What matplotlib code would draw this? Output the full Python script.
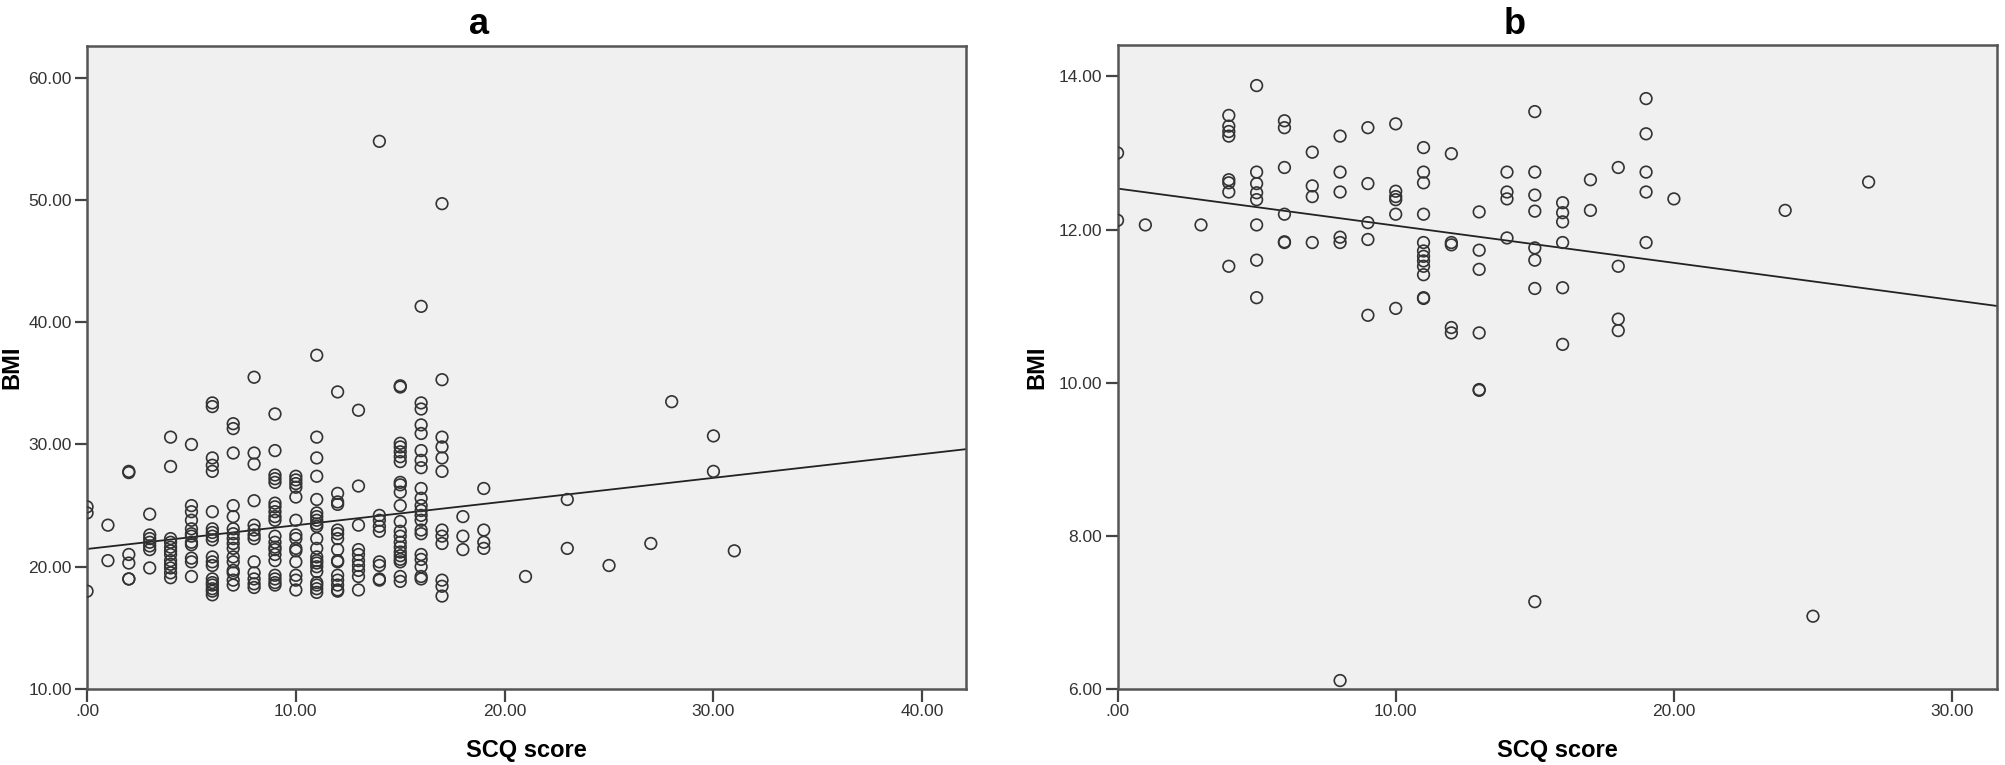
import matplotlib
matplotlib.use("Agg")
import matplotlib.pyplot as plt
from matplotlib.ticker import FuncFormatter
import numpy as np

plt.rcParams['font.family'] = ['Liberation Sans', 'DejaVu Sans']

# panel a : SCQ score vs BMI (whole sample), one list per SCQ value
a_cols = [0, 1, 2, 3, 4, 5, 6, 7, 8, 9, 10, 11, 12, 13, 14, 15, 16, 17, 18, 19, 21, 23, 25, 27, 28, 30, 31]
a_bmi = [
    [24.9, 24.4, 18.0],
    [23.4, 20.5],
    [27.8, 27.7, 21.0, 20.3, 19.0, 19.0],
    [24.3, 22.6, 22.3, 22.0, 21.7, 21.4, 19.9],
    [30.6, 28.2, 22.3, 22.0, 21.6, 21.3, 21.0, 20.5, 20.2, 19.9, 19.5, 19.1],
    [30.0, 25.0, 24.5, 23.8, 23.1, 22.7, 22.5, 22.0, 21.8, 20.7, 20.4, 19.2],
    [33.4, 33.1, 28.9, 28.3, 27.8, 24.5, 23.1, 22.8, 22.5, 22.2, 20.8, 20.4, 20.1, 19.0, 18.7, 18.5, 18.2, 18.0, 17.7],
    [31.7, 31.3, 29.3, 25.0, 24.1, 23.1, 22.7, 22.3, 21.9, 21.5, 20.8, 20.4, 19.7, 19.5, 18.9, 18.5],
    [35.5, 29.3, 28.4, 25.4, 23.4, 23.0, 22.6, 22.3, 20.4, 19.5, 19.0, 18.6, 18.3],
    [32.5, 29.5, 27.5, 27.2, 26.9, 25.2, 24.9, 24.5, 24.1, 23.8, 22.5, 22.0, 21.6, 21.4, 21.0, 20.5, 19.3, 19.0, 18.7, 18.5],
    [27.4, 27.1, 26.8, 26.5, 25.7, 23.8, 22.6, 22.3, 21.5, 21.3, 20.4, 19.3, 18.9, 18.1],
    [37.3, 30.6, 28.9, 27.4, 25.5, 24.4, 24.1, 23.8, 23.5, 23.3, 22.3, 21.5, 20.8, 20.5, 20.3, 20.0, 19.6, 18.7, 18.5, 18.2, 17.9],
    [34.3, 26.0, 25.3, 25.1, 23.0, 22.7, 22.3, 21.4, 20.5, 20.4, 19.3, 18.9, 18.5, 18.1, 18.0],
    [32.8, 26.6, 23.4, 21.4, 21.0, 20.5, 20.1, 19.7, 19.2, 18.1],
    [54.8, 24.2, 23.8, 23.3, 22.9, 20.4, 20.1, 19.0, 18.9],
    [34.8, 34.7, 30.1, 29.8, 29.4, 29.0, 28.6, 26.9, 26.7, 26.1, 25.0, 23.7, 22.9, 22.5, 22.0, 21.6, 21.2, 20.9, 20.6, 20.4, 19.2, 18.8],
    [41.3, 33.4, 32.9, 31.6, 30.9, 29.5, 28.7, 28.1, 26.4, 25.6, 25.0, 24.6, 24.2, 23.8, 23.0, 22.7, 21.0, 20.6, 20.0, 19.2, 19.0],
    [49.7, 35.3, 30.6, 29.8, 28.9, 27.8, 23.0, 22.5, 21.9, 18.9, 18.4, 17.6],
    [24.1, 22.5, 21.4],
    [26.4, 23.0, 22.0, 21.5],
    [19.2],
    [25.5, 21.5],
    [20.1],
    [21.9],
    [33.5],
    [30.7, 27.8],
    [21.3],
]
a_fit = (21.45, 0.194)  # intercept, slope of the fit line

# panel b
b_cols = [0, 1, 3, 4, 5, 6, 7, 8, 9, 10, 11, 12, 13, 14, 15, 16, 17, 18, 19, 20, 24, 25, 27]
b_bmi = [
    [13.0, 12.12],
    [12.06],
    [12.06],
    [13.49, 13.35, 13.28, 13.22, 12.65, 12.61, 12.49, 11.52],
    [13.88, 12.75, 12.60, 12.48, 12.39, 12.06, 11.60, 11.11],
    [13.42, 13.33, 12.81, 12.20, 11.84, 11.83],
    [13.01, 12.57, 12.43, 11.83],
    [13.22, 12.75, 12.49, 11.90, 11.83, 6.11],
    [13.33, 12.60, 12.09, 11.87, 10.88],
    [13.38, 12.50, 12.43, 12.39, 12.20, 10.97],
    [13.07, 12.75, 12.61, 12.20, 11.83, 11.72, 11.65, 11.59, 11.52, 11.41, 11.11, 11.10],
    [12.99, 11.83, 11.80, 10.72, 10.65],
    [12.23, 11.73, 11.48, 10.65, 9.91, 9.90],
    [12.75, 12.49, 12.40, 11.89],
    [13.54, 12.75, 12.45, 12.24, 11.76, 11.60, 11.23, 7.14],
    [12.35, 12.22, 12.10, 11.83, 11.24, 10.50],
    [12.65, 12.25],
    [12.81, 11.52, 10.83, 10.68],
    [13.71, 13.25, 12.75, 12.49, 11.83],
    [12.40],
    [12.25],
    [6.95],
    [12.62],
]
b_fit = (12.535, -0.0485)


def spss_fmt(v, pos):
    if abs(v) < 1e-9:
        return '.00'
    return '{:.2f}'.format(v)


def draw_panel(ax, cols, bmi, fit, xlim, ylim, xticks, yticks, ylab_x):
    x = []
    y = []
    for c, vals in zip(cols, bmi):
        for v in vals:
            x.append(c)
            y.append(v)
    ax.set_facecolor('#f0f0f0')
    ax.scatter(x, y, s=70, facecolors='none', edgecolors='#333333', linewidths=1.2, zorder=3)
    xs = np.array(xlim)
    ax.plot(xs, fit[0] + fit[1] * xs, color='#222222', lw=1.3, zorder=2)
    ax.set_xlim(xlim)
    ax.set_ylim(ylim)
    ax.set_xticks(xticks)
    ax.set_yticks(yticks)
    ax.xaxis.set_major_formatter(FuncFormatter(spss_fmt))
    ax.yaxis.set_major_formatter(FuncFormatter(spss_fmt))
    ax.tick_params(direction='out', length=9, width=1.6, color='#444444',
                   labelsize=12.5, labelcolor='#333333', pad=2)
    for s in ax.spines.values():
        s.set_linewidth(1.8)
        s.set_color('#555555')
    ax.set_xlabel('SCQ score', fontsize=17, fontweight='bold', labelpad=14)
    ax.set_ylabel('BMI', fontsize=17, fontweight='bold')
    ax.yaxis.set_label_coords(ylab_x, 0.5)


fig = plt.figure(figsize=(20.06, 7.65), dpi=100)
ax1 = fig.add_axes([0.0434, 0.0994, 0.4382, 0.8405])
ax2 = fig.add_axes([0.5571, 0.0994, 0.4382, 0.8418])

draw_panel(ax1, a_cols, a_bmi, a_fit, (0, 42.1), (10, 62.6),
           [0, 10, 20, 30, 40], [10, 20, 30, 40, 50, 60], -0.073)
draw_panel(ax2, b_cols, b_bmi, b_fit, (0, 31.6), (6, 14.41),
           [0, 10, 20, 30], [6, 8, 10, 12, 14], -0.079)

fig.text(479 / 2006, 1 - 34 / 765, 'a', fontsize=26, fontweight='bold', ha='center', va='baseline')
fig.text(1515 / 2006, 1 - 34 / 765, 'b', fontsize=26, fontweight='bold', ha='center', va='baseline')

fig.savefig('out.png', dpi=100)
